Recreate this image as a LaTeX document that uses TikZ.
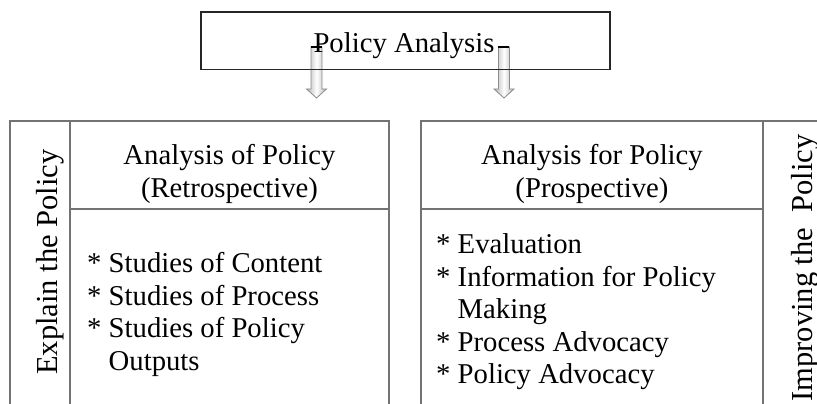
\documentclass[tikz,border=0pt]{standalone}
\usepackage{fontspec}
\setmainfont{Liberation Serif}

\tikzset{
	grid line/.style={line width=1.6pt, draw=black!55},
	cell text/.style={font=\fontsize{28.7}{32.5}\selectfont, inner sep=0pt},
	side text/.style={font=\fontsize{30.5}{34}\selectfont, inner sep=0pt, rotate=90, anchor=base},
	hollow arrow/.style={draw=black!45, line width=0.8pt, left color=black!30, right color=black!30, middle color=white}
}

\begin{document}
\begin{tikzpicture}[x=1pt,y=-1pt]
	\useasboundingbox (0,0) rectangle (817,404);

	% the two down arrows
	\foreach \ax in {316.5,504} {
		\draw [hollow arrow] (\ax-5.5,47) -- (\ax+5.5,47) -- (\ax+5.5,89) -- (\ax+10,89) -- (\ax,98) -- (\ax-10,89) -- (\ax-5.5,89) -- cycle;
		\draw [line width=1.4pt] (\ax-6,47) -- (\ax+5,47);
	}

	\draw [line width=1.4pt, draw=black!85] (201,12) rectangle (610,69.5);
	\node [cell text, anchor=base] (title) at (404,53) {Policy Analysis};

	% left table
	\draw [grid line] (10,404) -- (10,121) -- (389,121) -- (389,404);
	\draw [grid line] (70,121) -- (70,404);
	\draw [grid line] (70,209) -- (389,209);

	% right table
	\draw [grid line] (421,404) -- (421,121) -- (817,121);
	\draw [grid line] (763,121) -- (763,404);
	\draw [grid line] (421,209) -- (763,209);

	\node [side text] (explain) at (57,262) {Explain the Policy};
	\node [side text] (improve) at (812,268) {Improving the\ \ Policy};

	\node [cell text, anchor=north, align=center] (retro) at (229.5,144.4) {Analysis of Policy\\(Retrospective)};
	\node [cell text, anchor=north, align=center] (prosp) at (592,144.4) {Analysis for Policy\\(Prospective)};

	\node [cell text, anchor=north west, align=left] (retrolist) at (87,252.4)
		{* Studies of Content\\* Studies of Process\\* Studies of Policy\\\phantom{* }Outputs};
	\node [cell text, anchor=north west, align=left] (prosplist) at (436,233.4)
		{* Evaluation\\* Information for Policy\\\phantom{* }Making\\* Process Advocacy\\* Policy Advocacy};
\end{tikzpicture}
\end{document}
